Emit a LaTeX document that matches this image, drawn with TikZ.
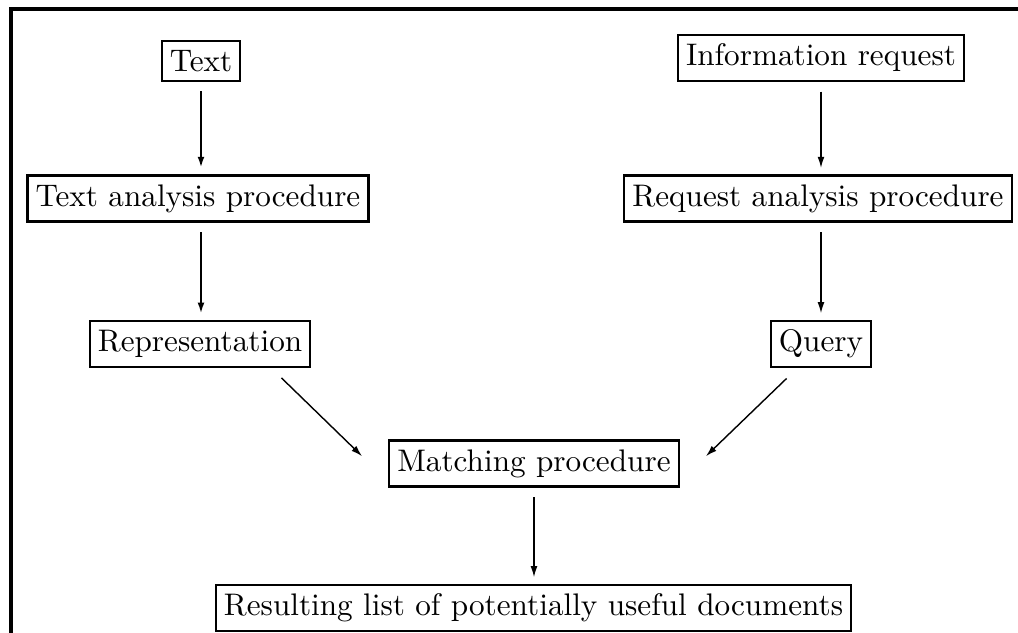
\documentclass[tikz,border=0pt]{standalone}
\usetikzlibrary{arrows.meta,calc}
\begin{document}
\begin{tikzpicture}[x=0.3205pt,y=-0.3205pt,
  box/.style={draw,line width=0.75pt,inner xsep=2.6pt,inner ysep=2.9pt,font=\fontsize{10}{12}\selectfont},
  arr/.style={-{Latex[length=3.6pt,width=2.2pt]},line width=0.45pt,shorten <=3pt,shorten >=2pt},
  thickarr/.style={arr,line width=0.9pt}]
\useasboundingbox (0,0) rectangle (1018,632);
\draw[line width=1pt] (11,640) -- (11,9) -- (1025,9);
\node[box] (text) at (201,61) {Text};
\node[box] (info) at (821,58) {Information request};
\node[box] (tap) at (198,198.5) {Text analysis procedure};
\node[box] (rap) at (818,198.5) {Request analysis procedure};
\node[box] (rep) at (200,344) {Representation};
\node[box] (query) at (821,344) {Query};
\node[box] (match) at (534,463.5) {Matching procedure};
\node[box] (res) at (533.5,608) {Resulting list of potentially useful documents};
\draw[thickarr] (text.south) -- (text.south |- tap.north);
\draw[thickarr] (tap.south -| text.south) -- (rep.north -| text.south);
\draw[arr] (info.south) -- (info.south |- rap.north);
\draw[arr] (rap.south -| info.south) -- (query.north -| info.south);
\draw[arr,shorten <=0pt,shorten >=0pt] ($(rep.south east)+(-30,10)$) -- ($(match.north west)+(-26,17)$);
\draw[arr,shorten <=0pt,shorten >=0pt] ($(query.south west)+(17,10)$) -- ($(match.north east)+(26,17)$);
\draw[arr] (match.south) -- (match.south |- res.north);
\end{tikzpicture}
\end{document}
